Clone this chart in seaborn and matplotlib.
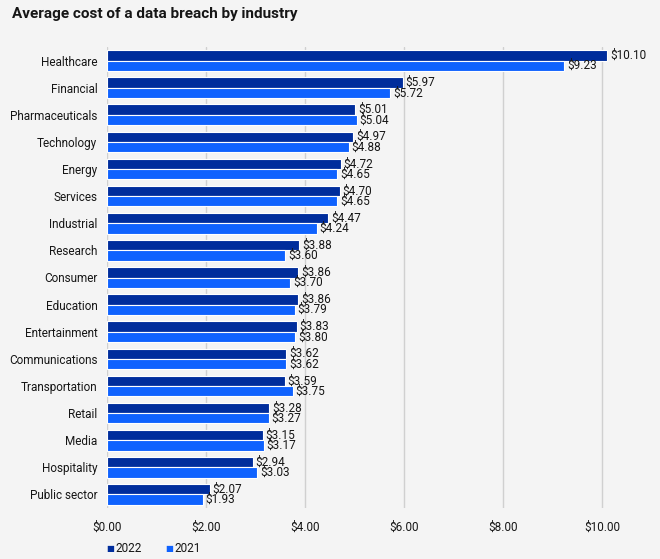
import pandas as pd
import matplotlib
matplotlib.use("Agg")
from matplotlib import pyplot as plt
import seaborn as sns

industries = ['Healthcare', 'Financial', 'Pharmaceuticals', 'Technology', 'Energy',
              'Services', 'Industrial', 'Research', 'Consumer', 'Education',
              'Entertainment', 'Communications', 'Transportation', 'Retail',
              'Media', 'Hospitality', 'Public sector']
cost_2022 = [10.10, 5.97, 5.01, 4.97, 4.72, 4.70, 4.47, 3.88, 3.86, 3.86,
             3.83, 3.62, 3.59, 3.28, 3.15, 2.94, 2.07]
cost_2021 = [9.23, 5.72, 5.04, 4.88, 4.65, 4.65, 4.24, 3.60, 3.70, 3.79,
             3.80, 3.62, 3.75, 3.27, 3.17, 3.03, 1.93]
years = ['2022', '2021']
xticks = [0, 2, 4, 6, 8, 10]

df = pd.DataFrame({
    'Industry': industries * 2,
    'Cost': cost_2022 + cost_2021,
    'Year': [years[0]] * len(industries) + [years[1]] * len(industries),
})

bg = '#f4f4f4'
colors = {'2022': '#002d9c', '2021': '#0f62fe'}

sns.set_theme(style='white')
plt.rcParams['font.family'] = ['Roboto', 'DejaVu Sans']

fig = plt.figure(figsize=(6.6, 5.59), dpi=100, facecolor=bg)
ax = fig.add_axes([107 / 660, 1 - 508 / 559, 530 / 660, 461 / 559])
ax.set_facecolor(bg)

sns.barplot(data=df, x='Cost', y='Industry', hue='Year', order=industries,
            hue_order=years, palette=colors, orient='h', width=0.76,
            saturation=1, edgecolor='white', linewidth=0.8, ax=ax,
            legend=False, zorder=3)

# value labels at bar ends
for cont in ax.containers:
    ax.bar_label(cont, labels=['$%.2f' % v for v in cont.datavalues],
                 padding=2, fontsize=8.5, color='#161616')

ax.set_xlim(0, 10.7)
ax.set_ylim(len(industries) - 0.5, -0.5)
ax.set_xticks(xticks)
ax.set_xticklabels(['$%.2f' % t for t in xticks], fontsize=8.5, color='#161616')
ax.tick_params(axis='y', labelsize=8.5, labelcolor='#161616', length=0, pad=7)
ax.tick_params(axis='x', length=0, pad=9)
ax.set_xlabel('')
ax.set_ylabel('')
ax.grid(axis='x', color='#d0d0d0', linewidth=1, zorder=0)
sns.despine(ax=ax, left=True, bottom=True)

fig.text(12 / 660, 1 - 14 / 559, 'Average cost of a data breach by industry',
         fontsize=11, fontweight='bold', color='#161616', va='center', ha='left')

# legend at bottom
for xpos, yr in [(106, '2022'), (165, '2021')]:
    fig.text(xpos / 660, 1 - 548 / 559, '\u25a0', color=colors[yr], fontsize=6,
             va='center', ha='left', family=['DejaVu Sans'])
    fig.text((xpos + 9) / 660, 1 - 548 / 559, yr, fontsize=8.5, color='#161616',
             va='center', ha='left')

fig.savefig('out.png', dpi=100, facecolor=bg)
